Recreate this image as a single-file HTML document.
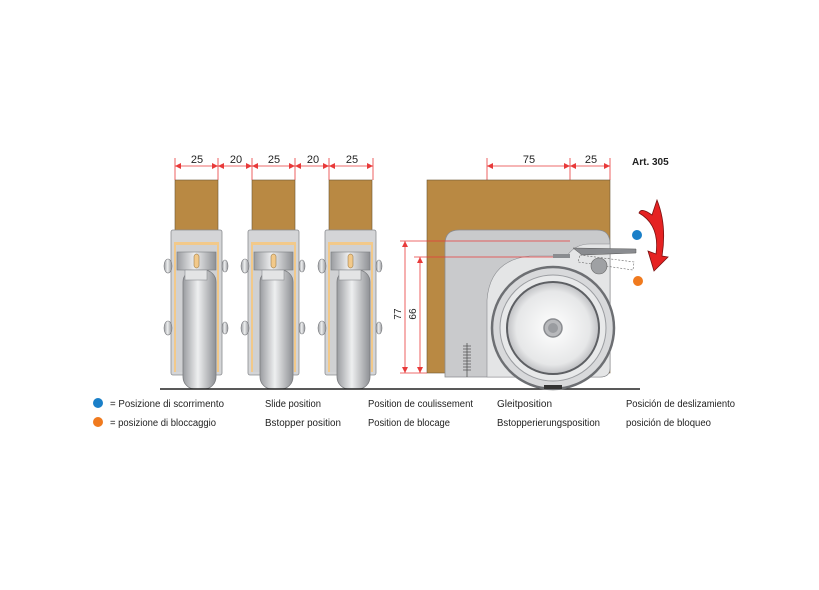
<!DOCTYPE html>
<html><head><meta charset="utf-8"><style>
html,body{margin:0;padding:0;background:#fff;}
svg{display:block;font-family:"Liberation Sans",sans-serif;}
</style></head><body>
<svg width="819" height="590" viewBox="0 0 819 590" xmlns="http://www.w3.org/2000/svg">
<defs>
<linearGradient id="wg" x1="0" x2="1" y1="0" y2="0">
<stop offset="0" stop-color="#9a9ca0"/><stop offset="0.45" stop-color="#eeeff0"/><stop offset="1" stop-color="#8e9094"/>
</linearGradient>
<radialGradient id="rw" cx="0.5" cy="0.5" r="0.5">
<stop offset="0" stop-color="#ffffff"/><stop offset="0.8" stop-color="#e6e7e8"/><stop offset="1" stop-color="#bfc0c3"/>
</radialGradient>
<g id="caster">
<rect x="0" y="0" width="43" height="62" fill="#b98943" stroke="#6b5535" stroke-width="0.6"/>
<rect x="-4" y="50" width="51" height="145" rx="2" fill="#d4d5d7" stroke="#8a8c90" stroke-width="0.8"/>
<rect x="-1" y="62" width="45" height="130" fill="#f2c98a"/>
<rect x="1" y="65" width="41" height="127" fill="#d0d1d3"/>
<rect x="8" y="90" width="33" height="119" rx="12" fill="url(#wg)" stroke="#7b7d80" stroke-width="0.8"/>
<rect x="2" y="72" width="39" height="18" fill="url(#wg)" stroke="#7b7d80" stroke-width="0.6"/>
<rect x="19" y="74" width="5" height="14" rx="2.5" fill="#f2c98a" stroke="#8a6a3a" stroke-width="0.5"/>
<rect x="10" y="90" width="22" height="10" fill="#e3e4e5" stroke="#8a8c90" stroke-width="0.6"/>
<ellipse cx="-7" cy="86" rx="4" ry="7" fill="url(#wg)" stroke="#7b7d80" stroke-width="0.6"/>
<ellipse cx="-7" cy="148" rx="4" ry="7" fill="url(#wg)" stroke="#7b7d80" stroke-width="0.6"/>
<ellipse cx="50" cy="86" rx="3" ry="6" fill="url(#wg)" stroke="#7b7d80" stroke-width="0.6"/>
<ellipse cx="50" cy="148" rx="3" ry="6" fill="url(#wg)" stroke="#7b7d80" stroke-width="0.6"/>
</g>
</defs>

<use href="#caster" x="175" y="180"/>
<use href="#caster" x="252" y="180"/>
<use href="#caster" x="329" y="180"/>

<line x1="160" y1="389" x2="640" y2="389" stroke="#222" stroke-width="1.5"/>

<g stroke="#e83a3a" stroke-width="0.8" fill="none">
<line x1="175" y1="158" x2="175" y2="180"/><line x1="218" y1="158" x2="218" y2="180"/>
<line x1="252" y1="158" x2="252" y2="180"/><line x1="295" y1="158" x2="295" y2="180"/>
<line x1="329" y1="158" x2="329" y2="180"/><line x1="373" y1="158" x2="373" y2="180"/>
<line x1="175" y1="166" x2="373" y2="166"/>
<line x1="487" y1="158" x2="487" y2="295"/><line x1="570" y1="158" x2="570" y2="255"/><line x1="610" y1="158" x2="610" y2="180"/>
<line x1="487" y1="166" x2="610" y2="166"/>
</g>
<g fill="#e83a3a">
<path d="M175 166l6-3v6zM218 166l-6-3v6zM218 166l6-3v6zM252 166l-6-3v6zM252 166l6-3v6zM295 166l-6-3v6zM295 166l6-3v6zM329 166l-6-3v6zM329 166l6-3v6zM373 166l-6-3v6z"/>
<path d="M487 166l6-3v6zM570 166l-6-3v6zM570 166l6-3v6zM610 166l-6-3v6z"/>
</g>
<g font-size="11" fill="#222" text-anchor="middle">
<text x="197" y="163">25</text><text x="236" y="163">20</text><text x="274" y="163">25</text><text x="313" y="163">20</text><text x="352" y="163">25</text>
<text x="529" y="163">75</text><text x="591" y="163">25</text>
</g>
<text x="632" y="165" font-size="10" font-weight="bold" fill="#222">Art. 305</text>

<rect x="427" y="180" width="183" height="193" fill="#b98943" stroke="#6b5535" stroke-width="0.6"/>
<path d="M445 377 V244 Q445 230 459 230 H597 Q610 230 610 244 V368 Q610 377 600 377 Z" fill="#c9cacc" stroke="#8a8c90" stroke-width="0.8"/>
<path d="M487 375 V300 Q490 260 530 256 H567 Q575 244 590 244 H610 V368 Q610 377 600 377 H487Z" fill="#e4e5e6" stroke="#8a8c90" stroke-width="0.6"/>
<rect x="553" y="254" width="17" height="4" fill="#8a8c90"/>
<circle cx="553" cy="328" r="61" fill="#d8d9db" stroke="#6d6f73" stroke-width="2.5"/>
<circle cx="553" cy="328" r="53" fill="#e8e9ea" stroke="#9a9ca0" stroke-width="1"/>
<circle cx="553" cy="328" r="46" fill="url(#rw)" stroke="#5d5f63" stroke-width="2"/>
<circle cx="553" cy="328" r="9" fill="#b8b9bc" stroke="#8a8c90" stroke-width="1.5"/>
<circle cx="553" cy="328" r="5" fill="#9a9ca0"/>
<rect x="544" y="385" width="18" height="4" fill="#333"/>
<path d="M573 248 L636 249 L636 253 L582 255 Z" fill="#8a8c90" stroke="#555" stroke-width="0.5"/>
<path d="M580 255 L634 262 L633 270 L578 262 Z" fill="none" stroke="#666" stroke-width="0.6" stroke-dasharray="2,1.5"/>
<circle cx="599" cy="266" r="8" fill="#9fa1a4" stroke="#666" stroke-width="0.6"/>
<g stroke="#555" stroke-width="0.8"><line x1="467" y1="343" x2="467" y2="377"/>
<path d="M463 346h8M463 349h8M463 352h8M463 355h8M463 358h8M463 361h8M463 364h8M463 367h8M463 370h8" /></g>

<g stroke="#e83a3a" stroke-width="0.8" fill="none">
<line x1="400" y1="241" x2="570" y2="241"/><line x1="414" y1="257" x2="553" y2="257"/>
<line x1="400" y1="373" x2="427" y2="373"/>
<line x1="405" y1="241" x2="405" y2="373"/><line x1="420" y1="257" x2="420" y2="373"/>
</g>
<path d="M405 241l-3 6h6zM405 373l-3-6h6zM420 257l-3 6h6zM420 373l-3-6h6z" fill="#e83a3a"/>
<text transform="translate(401 314) rotate(-90)" font-size="10" fill="#222" text-anchor="middle">77</text>
<text transform="translate(416 314) rotate(-90)" font-size="10" fill="#222" text-anchor="middle">66</text>

<path d="M657 200 L652 215 Q641 207 639 213 Q660 225 656 254 L648 251 L654 271 L668 257 L662 256 Q667 225 657 200 Z" fill="#e52222" stroke="#7a1010" stroke-width="0.8"/>
<circle cx="637" cy="235" r="5" fill="#1a7fc8"/>
<circle cx="638" cy="281" r="5" fill="#f07a1e"/>

<circle cx="98" cy="403" r="5" fill="#1a7fc8"/>
<circle cx="98" cy="422" r="5" fill="#f07a1e"/>
<g font-size="10" fill="#222" lengthAdjust="spacingAndGlyphs">
<text x="110" y="407" textLength="114" lengthAdjust="spacingAndGlyphs">= Posizione di scorrimento</text>
<text x="110" y="426" textLength="106" lengthAdjust="spacingAndGlyphs">= posizione di bloccaggio</text>
<text x="265" y="407" textLength="56" lengthAdjust="spacingAndGlyphs">Slide position</text>
<text x="265" y="426" textLength="76" lengthAdjust="spacingAndGlyphs">Bstopper position</text>
<text x="368" y="407" textLength="105" lengthAdjust="spacingAndGlyphs">Position de coulissement</text>
<text x="368" y="426" textLength="82" lengthAdjust="spacingAndGlyphs">Position de blocage</text>
<text x="497" y="407" textLength="55" lengthAdjust="spacingAndGlyphs">Gleitposition</text>
<text x="497" y="426" textLength="103" lengthAdjust="spacingAndGlyphs">Bstopperierungsposition</text>
<text x="626" y="407" textLength="109" lengthAdjust="spacingAndGlyphs">Posición de deslizamiento</text>
<text x="626" y="426" textLength="85" lengthAdjust="spacingAndGlyphs">posición de bloqueo</text>
</g>
</svg>
</body></html>
